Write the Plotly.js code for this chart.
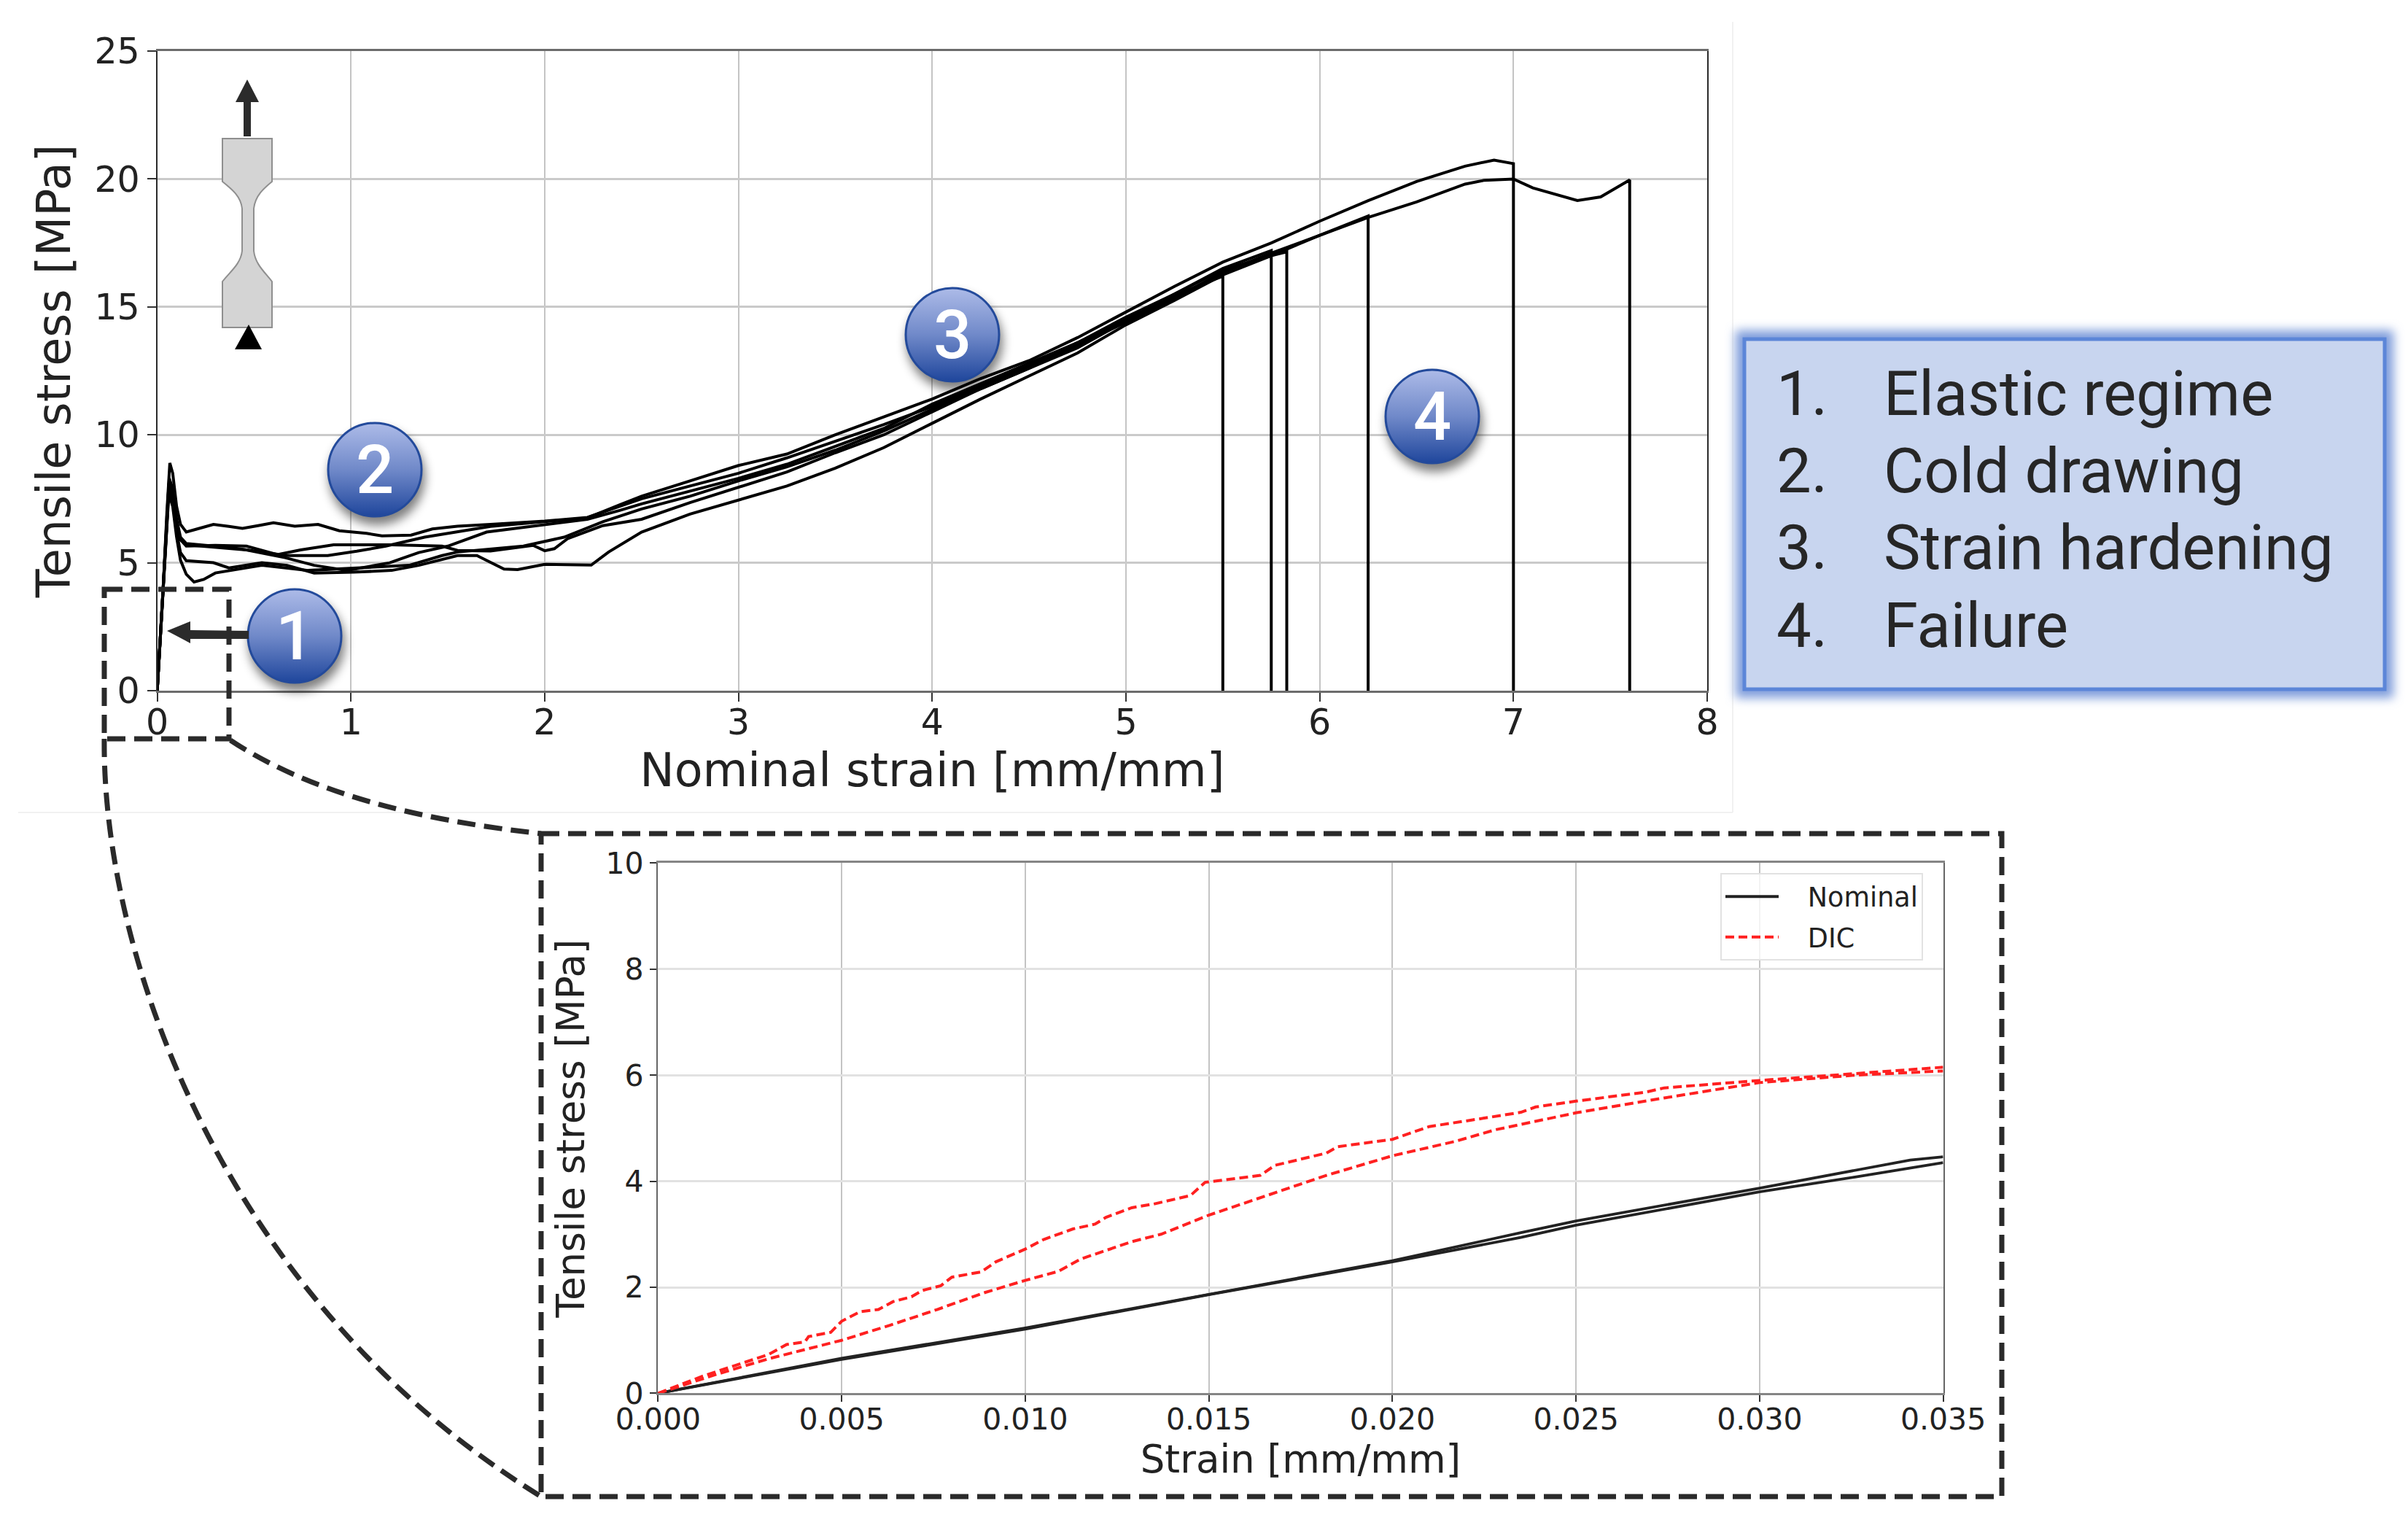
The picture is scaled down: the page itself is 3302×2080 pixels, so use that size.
<!DOCTYPE html>
<html><head><meta charset="utf-8">
<script src="https://cdn.plot.ly/plotly-3.0.1.min.js"></script>
<style>html,body{margin:0;padding:0;background:#fff}#c{width:3302px;height:2080px}</style>
</head><body><div id="c"></div>
<script>
// ---- main chart values: nominal strain [mm/mm], tensile stress [MPa]
const strainA=[0,0.012,0.03,0.05,0.065,0.08,0.1,0.12,0.15,0.22,0.29,0.37,0.44,0.52,0.6,0.71,0.83,0.94,1.08,1.16,1.31,1.42,1.55,1.72,2.0,2.22,2.39,2.5,2.75,3,3.25,3.5,3.75,4,4.25,4.5,4.75,5,5.25,5.5,5.75,5.75];
const stressA=[0,1.5,3.9,7.0,8.9,8.5,7.2,6.5,6.2,6.35,6.5,6.42,6.34,6.45,6.56,6.43,6.5,6.25,6.15,6.05,6.08,6.32,6.43,6.5,6.63,6.77,7.2,7.5,8.0,8.5,9.1,9.75,10.4,11.1,11.9,12.7,13.6,14.6,15.5,16.5,17.2,0];
const strainB=[0,0.012,0.03,0.05,0.062,0.08,0.1,0.12,0.15,0.25,0.37,0.54,0.67,0.88,1.03,1.18,1.38,1.72,2.0,2.22,2.39,2.5,2.75,3,3.25,3.5,3.75,4,4.25,4.5,4.75,5,5.25,5.5,5.75,6,6.25,6.5,6.75,6.9,6.98,7,7];
const stressB=[0,1.5,3.9,6.8,8.3,7.9,6.7,6.0,5.75,5.68,5.6,5.42,5.28,5.28,5.45,5.65,6.0,6.42,6.6,6.75,7.27,7.6,8.2,8.8,9.25,10.0,10.7,11.4,12.2,12.9,13.8,14.8,15.8,16.75,17.5,18.35,19.15,19.9,20.5,20.74,20.62,20.6,0];
const strainC=[0,0.012,0.03,0.05,0.06,0.08,0.1,0.12,0.15,0.3,0.46,0.62,0.74,0.91,1.21,1.47,1.55,1.72,1.94,2.0,2.05,2.12,2.3,2.5,2.75,3,3.25,3.5,3.75,4,4.25,4.5,4.75,5,5.25,5.5,5.75,6,6.25,6.5,6.75,6.85,7,7.1,7.22,7.33,7.45,7.55,7.6,7.6];
const stressC=[0,1.5,3.8,6.6,8.0,7.6,6.5,5.9,5.65,5.68,5.65,5.32,5.5,5.7,5.7,5.65,5.48,5.46,5.68,5.47,5.55,5.95,6.45,6.7,7.35,7.95,8.55,9.3,10.0,10.9,11.8,12.6,13.5,14.4,15.35,16.35,17.1,17.8,18.5,19.1,19.8,19.95,20.0,19.65,19.4,19.16,19.3,19.75,19.96,0];
const strainD=[0,0.012,0.03,0.05,0.06,0.08,0.1,0.12,0.15,0.29,0.37,0.54,0.67,0.81,1.01,1.21,1.35,1.55,1.65,1.79,1.86,2.0,2.24,2.33,2.5,2.75,3,3.25,3.5,3.75,4,4.25,4.5,4.75,5,5.25,5.5,5.75,5.83,5.83];
const stressD=[0,1.5,3.7,6.4,7.9,7.4,6.2,5.4,5.08,5.0,4.8,5.0,4.9,4.6,4.63,4.7,4.9,5.28,5.28,4.75,4.73,4.94,4.91,5.42,6.2,6.9,7.45,8.0,8.7,9.5,10.45,11.4,12.3,13.2,14.3,15.25,16.25,17.0,17.15,0];
const strainE=[0,0.012,0.03,0.05,0.06,0.08,0.1,0.12,0.15,0.19,0.24,0.3,0.54,0.78,1.05,1.3,1.47,1.55,1.89,2.1,2.3,2.5,2.75,3,3.25,3.5,3.75,4,4.25,4.5,4.75,5,5.25,5.5,5.5];
const stressE=[0,1.5,3.6,6.2,7.7,7.2,6.0,5.1,4.55,4.25,4.35,4.6,4.9,4.7,4.8,4.9,5.28,5.42,5.65,6.0,6.6,7.1,7.6,8.2,8.75,9.4,10.15,11.0,11.8,12.6,13.4,14.45,15.45,16.2,0];
const strainF=[0,0.012,0.03,0.05,0.06,0.08,0.1,0.12,0.15,0.3,0.46,0.66,0.81,0.98,1.2,1.35,1.5,1.7,2.0,2.22,2.39,2.5,2.75,3,3.25,3.5,3.75,4,4.25,4.5,4.75,5,5.25,5.5,5.75,6,6.25,6.25];
const stressF=[0,1.5,3.8,6.5,8.1,7.7,6.5,5.9,5.7,5.6,5.5,5.2,4.9,4.7,5.0,5.4,5.65,6.2,6.5,6.7,7.05,7.3,7.8,8.3,8.85,9.55,10.25,11.2,12.0,12.8,13.6,14.5,15.5,16.45,17.0,17.8,18.55,0];
const mainXTicks=[0,1,2,3,4,5,6,7,8];
const mainYTicks=[0,5,10,15,20,25];

// ---- inset values
const nomStrainHi=[0,0.005,0.01,0.015,0.02,0.0235,0.025,0.03,0.0326,0.0341,0.035];
const nomStressHi=[0,0.66,1.23,1.87,2.5,3.03,3.25,3.87,4.2,4.4,4.46];
const nomStrainLo=[0,0.005,0.01,0.015,0.02,0.0235,0.025,0.03,0.0326,0.035];
const nomStressLo=[0,0.64,1.21,1.86,2.48,2.94,3.17,3.8,4.08,4.35];
const dicStrainHi=[0,0.0012,0.003,0.0035,0.004,0.0041,0.0047,0.005,0.0055,0.006,0.0064,0.0069,0.0072,0.0077,0.008,0.0088,0.0092,0.01,0.0105,0.0113,0.0119,0.0122,0.0129,0.0135,0.0145,0.0149,0.0164,0.0168,0.0182,0.0185,0.02,0.021,0.0225,0.0235,0.0239,0.025,0.0269,0.0274,0.03,0.0326,0.035];
const dicStressHi=[0,0.32,0.73,0.92,0.97,1.07,1.15,1.36,1.54,1.58,1.73,1.82,1.94,2.03,2.19,2.29,2.48,2.72,2.9,3.1,3.19,3.32,3.5,3.57,3.73,3.98,4.11,4.3,4.53,4.65,4.79,5.03,5.19,5.3,5.4,5.51,5.68,5.76,5.9,6.03,6.15];
const dicStrainLo=[0,0.0016,0.003,0.005,0.0063,0.0076,0.0089,0.01,0.0109,0.0115,0.0129,0.0137,0.015,0.0164,0.0182,0.02,0.0217,0.0228,0.025,0.0274,0.03,0.0326,0.035];
const dicStressLo=[0,0.36,0.65,1.0,1.28,1.58,1.9,2.13,2.3,2.53,2.86,3.0,3.36,3.69,4.11,4.48,4.75,4.97,5.29,5.57,5.86,6.0,6.08];
const insetXTicks=[0,0.005,0.01,0.015,0.02,0.025,0.03,0.035];
const insetYTicks=[0,2,4,6,8,10];

// ---- text
const stageNumbers=["1","2","3","4"];
const stageNames=["Elastic regime","Cold drawing","Strain hardening","Failure"];

const W=3302,H=2080;
const px=x=>x/W, py=y=>1-y/H;
const path=(cmds)=>cmds.map(c=>c[0]+' '+c.slice(1).map((v,i)=>i%2==0?px(v):py(v)).join(' ')).join(' ');
const shp=(cmds,o)=>Object.assign({type:'path',xref:'paper',yref:'paper',layer:'above',path:path(cmds)},o);
const dashLine={color:'#2a2a2a',width:7,dash:'25px,12px'};
const faint={color:'#ececec',width:1.5};

const shapes=[
  shp([['M',2376,30],['L',2376,1114]],{line:faint,layer:'below'}),
  shp([['M',25,1114],['L',2376,1114]],{line:faint,layer:'below'}),
  shp([['M',305,190],['L',373,190],['L',373,249],['C',362,258,350,268,348,286],['L',348,344],['C',350,362,362,372,373,386],['L',373,449],['L',305,449],['L',305,386],['C',316,372,330,362,332,344],['L',332,286],['C',330,268,316,258,305,249],['Z']],{fillcolor:'#d4d4d4',line:{color:'#8f8f8f',width:2}}),
  shp([['M',339,109],['L',355,140],['L',344,140],['L',344,187],['L',334,187],['L',334,140],['L',323,140],['Z']],{fillcolor:'#2b2b2b',line:{width:0}}),
  shp([['M',341,445],['L',359,479],['L',322,479],['Z']],{fillcolor:'#000',line:{width:0}}),
  shp([['M',229,865],['L',261,852],['L',261,864],['L',341,865],['L',341,876],['L',261,876],['L',261,882],['Z']],{fillcolor:'#2b2b2b',line:{width:0}}),
  shp([['M',143,808],['L',314,808],['L',314,1013],['L',143,1013],['Z']],{line:dashLine}),
  shp([['M',742,1143],['L',2745,1143],['L',2745,2052],['L',742,2052],['Z']],{line:dashLine}),
  shp([['M',316,1015],['C',430,1090,580,1125,742,1143]],{line:dashLine}),
  shp([['M',143,1013],['C',140,1300,300,1780,742,2052]],{line:dashLine})
];

const circle=(cx,cy)=>{
  const svg=`<svg xmlns="http://www.w3.org/2000/svg" width="200" height="200" viewBox="0 0 200 200"><defs><linearGradient id="g" x1="0" y1="0" x2="0" y2="1"><stop offset="0" stop-color="#adbbe8"/><stop offset="0.5" stop-color="#7089c9"/><stop offset="1" stop-color="#1f469c"/></linearGradient><filter id="b" x="-30%" y="-30%" width="160%" height="160%"><feGaussianBlur stdDeviation="7"/></filter></defs><circle cx="103" cy="110" r="66" fill="#000" opacity="0.5" filter="url(#b)"/><circle cx="100" cy="100" r="64" fill="url(#g)" stroke="#234a9b" stroke-width="3"/></svg>`;
  return {source:'data:image/svg+xml;charset=utf-8,'+encodeURIComponent(svg),xref:'paper',yref:'paper',x:px(cx-100),y:py(cy-100),sizex:200/W,sizey:200/H,sizing:'stretch',xanchor:'left',yanchor:'top',layer:'above'};
};
const boxSvg=`<svg xmlns="http://www.w3.org/2000/svg" width="940" height="540" viewBox="0 0 940 540"><defs><filter id="b" x="-10%" y="-15%" width="120%" height="130%"><feGaussianBlur stdDeviation="7"/></filter></defs><rect x="18" y="18" width="902" height="504" fill="#7f9ddb" filter="url(#b)"/><rect x="30" y="30" width="878" height="480" fill="#c8d5ef" stroke="#5c86d8" stroke-width="5"/></svg>`;
const images=[
  {source:'data:image/svg+xml;charset=utf-8,'+encodeURIComponent(boxSvg),xref:'paper',yref:'paper',x:px(2362),y:py(435),sizex:940/W,sizey:540/H,sizing:'stretch',xanchor:'left',yanchor:'top',layer:'above'},
  circle(404,872),circle(514,644),circle(1306,459),circle(1964,571)
];

const listFont={family:'Roboto, sans-serif',size:85,color:'#262626'};
const digitFont={family:'Roboto, sans-serif',size:92,weight:500,color:'#ffffff'};
const circleCenters=[[404,872],[514,644],[1306,459],[1964,571]];
const listY=[540,646,751,858];
const ann=(t,x,y,xa,font)=>({text:t,x:px(x),y:py(y),xref:'paper',yref:'paper',xanchor:xa,yanchor:'middle',showarrow:false,font:font});
const annotations=[
  ...stageNumbers.map((t,i)=>ann(t,circleCenters[i][0],circleCenters[i][1],'center',digitFont)),
  ...stageNumbers.map((t,i)=>ann(t+'.',2434,listY[i],'left',listFont)),
  ...stageNames.map((t,i)=>ann(t,2581,listY[i],'left',listFont))
];

const mainLine={color:'#000',width:4};
const mainPairs=[[strainA,stressA],[strainB,stressB],[strainC,stressC],[strainD,stressD],[strainE,stressE],[strainF,stressF]];
const traces=mainPairs.map(p=>({x:p[0],y:p[1],mode:'lines',line:mainLine,xaxis:'x',yaxis:'y',showlegend:false,hoverinfo:'skip'}));
const nomLine={color:'#222',width:3.8}, dicLine={color:'#ff2020',width:4,dash:'12px,6px'};
const NB='\u00a0\u00a0\u00a0';
traces.push(
 {x:nomStrainHi,y:nomStressHi,mode:'lines',name:NB+'Nominal',legendgroup:'n',line:nomLine,xaxis:'x2',yaxis:'y2',showlegend:true},
 {x:nomStrainLo,y:nomStressLo,mode:'lines',name:'Nominal',legendgroup:'n',line:nomLine,xaxis:'x2',yaxis:'y2',showlegend:false},
 {x:dicStrainHi,y:dicStressHi,mode:'lines',name:NB+'DIC',legendgroup:'d',line:dicLine,xaxis:'x2',yaxis:'y2',showlegend:true},
 {x:dicStrainLo,y:dicStressLo,mode:'lines',name:'DIC',legendgroup:'d',line:dicLine,xaxis:'x2',yaxis:'y2',showlegend:false}
);
const DJ='"DejaVu Sans", sans-serif', INK='#222';
const axisBase=(font,len)=>({showgrid:true,zeroline:false,mirror:true,showline:true,ticks:'outside',ticklen:len,tickwidth:2,tickcolor:'#333',tickfont:{family:DJ,size:font,color:INK}});
const layout={
  width:W,height:H,margin:{l:0,r:0,t:0,b:0},paper_bgcolor:'#fff',plot_bgcolor:'#fff',showlegend:true,
  xaxis:Object.assign(axisBase(49,12),{domain:[px(215.6),px(2341)],anchor:'y',range:[0,8],tickmode:'array',tickvals:mainXTicks,ticktext:mainXTicks.map(String),gridcolor:'#c4c4c4',gridwidth:2,linecolor:'#6c6c6c',linewidth:3,ticklabelstandoff:-14,
    title:{text:'Nominal strain [mm/mm]',font:{family:DJ,size:63.5,color:INK},standoff:16}}),
  yaxis:Object.assign(axisBase(49,12),{domain:[py(947),py(70)],anchor:'x',range:[0,25],tickmode:'array',tickvals:mainYTicks,ticktext:mainYTicks.map(String),gridcolor:'#cacaca',gridwidth:3,linecolor:'#2a2a2a',linewidth:2,
    title:{text:'Tensile stress [MPa]',font:{family:DJ,size:63.5,color:INK},standoff:12}}),
  xaxis2:Object.assign(axisBase(41,9),{domain:[px(902.4),px(2664.6)],anchor:'y2',range:[0,0.035],tickmode:'array',tickvals:insetXTicks,ticktext:insetXTicks.map(v=>v.toFixed(3)),gridcolor:'#c4c4c4',gridwidth:2,linecolor:'#858585',linewidth:3,ticklabelstandoff:-12,
    title:{text:'Strain [mm/mm]',font:{family:DJ,size:53,color:INK},standoff:10}}),
  yaxis2:Object.assign(axisBase(41,9),{domain:[py(1910.4),py(1183.4)],anchor:'x2',range:[0,10],tickmode:'array',tickvals:insetYTicks,ticktext:insetYTicks.map(String),gridcolor:'#e2e2e2',gridwidth:3,linecolor:'#666',linewidth:2.5,
    title:{text:'Tensile stress [MPa]',font:{family:DJ,size:53,color:INK},standoff:12}}),
  legend:{x:px(2359),y:py(1197),xanchor:'left',yanchor:'top',traceorder:'grouped',tracegroupgap:5,bgcolor:'rgba(255,255,255,0.8)',bordercolor:'#e2e2e2',borderwidth:2,font:{family:DJ,size:36.5,color:INK},itemwidth:73},
  shapes:shapes,images:images,annotations:annotations
};
Plotly.newPlot('c',traces,layout,{displayModeBar:false,staticPlot:true});
</script></body></html>
